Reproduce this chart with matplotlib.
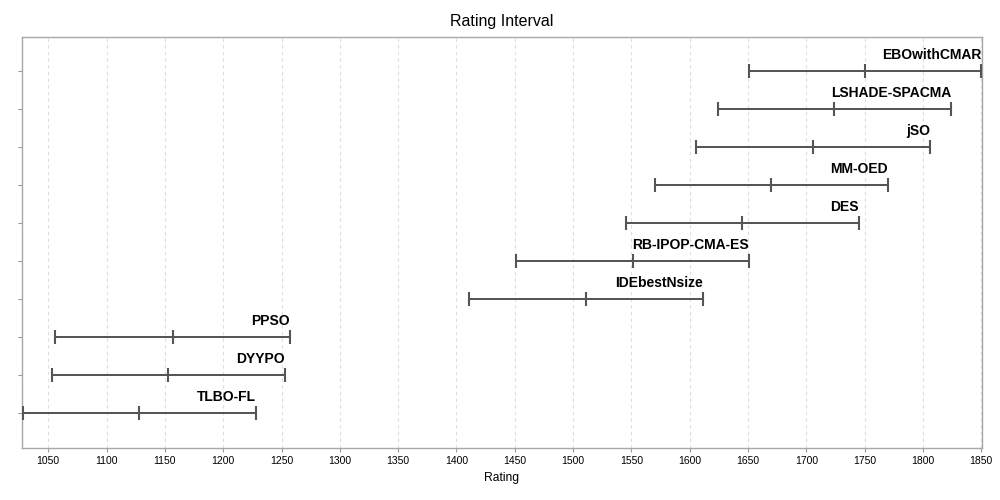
import matplotlib
matplotlib.use("Agg")
import matplotlib.pyplot as plt
from matplotlib.transforms import offset_copy

algorithms = ["EBOwithCMAR", "LSHADE-SPACMA", "jSO", "MM-OED", "DES",
              "RB-IPOP-CMA-ES", "IDEbestNsize", "PPSO", "DYYPO", "TLBO-FL"]
rating_low = [1651, 1624, 1605, 1570, 1545, 1451, 1411, 1056, 1053, 1028]
rating_mid = [1750, 1724, 1706, 1670, 1645, 1551, 1511, 1157, 1153, 1128]
rating_high = [1850, 1824, 1806, 1770, 1745, 1651, 1611, 1257, 1253, 1228]
x_ticks = list(range(1050, 1851, 50))

plt.rcParams['font.family'] = ['Liberation Sans', 'DejaVu Sans']

fig = plt.figure(figsize=(10, 5), dpi=100)
ax = fig.add_axes([0.022, 0.104, 0.96, 0.822])

line_col = "#444444"
cap_col = "#555555"
for i, (name, lo, mid, hi) in enumerate(zip(algorithms, rating_low, rating_mid, rating_high)):
    ax.plot([lo, hi], [i, i], color=line_col, lw=1.3, solid_capstyle="butt", zorder=3)
    ax.plot([lo, mid, hi], [i, i, i], linestyle="none", marker="|", markersize=9.5,
            markeredgewidth=1.5, color=cap_col, zorder=4)
    tr = offset_copy(ax.transData, fig=fig, x=0, y=11.6, units="points")
    ax.text(hi, i, name, transform=tr, ha="right", va="center",
            fontsize=10, fontweight="bold", color="black")

ax.set_xlim(1027.5, 1850.6)
ax.set_ylim(len(algorithms) - 1 + 0.92, -0.9)
ax.set_xticks(x_ticks)
ax.set_xticklabels([str(t) for t in x_ticks], fontsize=7.5)
ax.set_yticks(range(len(algorithms)))
ax.set_yticklabels([])
ax.tick_params(axis="both", direction="out", length=3, color="#999999", width=0.8)
ax.tick_params(axis="x", pad=3)
ax.grid(axis="x", color="#dddddd", linestyle=(0, (3, 3)), linewidth=0.8, zorder=0)
ax.set_axisbelow(True)
for s in ax.spines.values():
    s.set_color("#a8a8a8")
    s.set_linewidth(1.0)

ax.set_title("Rating Interval", fontsize=11.5, pad=8)
ax.set_xlabel("Rating", fontsize=8.7, labelpad=4)

fig.savefig("out.png", dpi=100)
